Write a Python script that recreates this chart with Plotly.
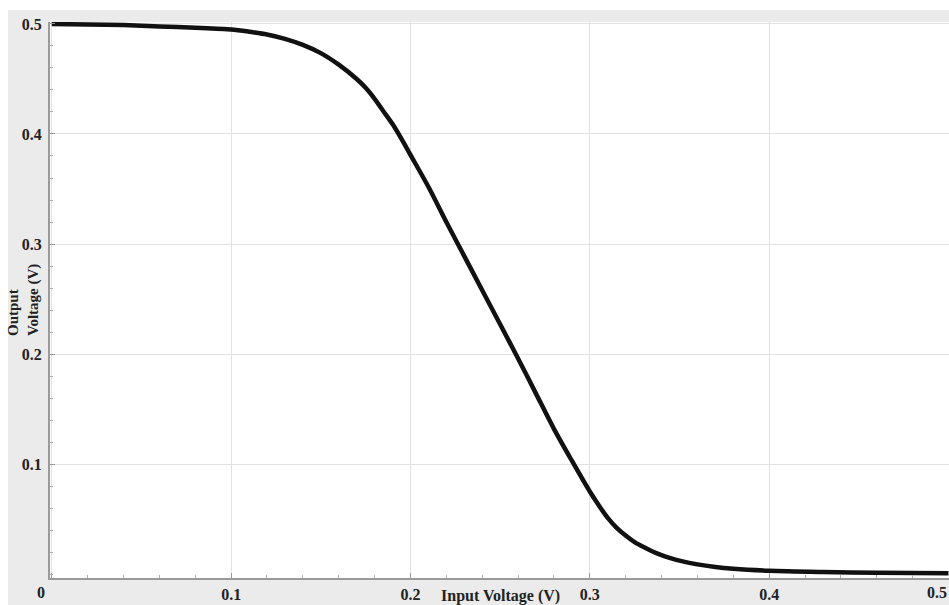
import plotly.graph_objects as go

# Data (inverter voltage transfer curve)
vin = [0.00, 0.02, 0.04, 0.06, 0.08, 0.10, 0.11, 0.12, 0.13, 0.14, 0.15, 0.16,
       0.17, 0.175, 0.18, 0.185, 0.19, 0.195, 0.20, 0.21, 0.22, 0.23, 0.24, 0.25,
       0.26, 0.27, 0.28, 0.29, 0.30, 0.305, 0.31, 0.315, 0.32, 0.325, 0.33, 0.335,
       0.34, 0.345, 0.35, 0.36, 0.37, 0.38, 0.40, 0.43, 0.46, 0.50]
vout = [0.500, 0.4995, 0.499, 0.4978, 0.4966, 0.4950, 0.4930, 0.4905, 0.4865,
        0.4810, 0.4735, 0.4630, 0.4500, 0.4420, 0.4320, 0.4205, 0.4090, 0.3955,
        0.3810, 0.3520, 0.3200, 0.2890, 0.2580, 0.2270, 0.1960, 0.1640, 0.1320,
        0.1030, 0.0750, 0.0625, 0.0510, 0.0420, 0.0350, 0.0290, 0.0245, 0.0205,
        0.0172, 0.0145, 0.0122, 0.0088, 0.0064, 0.0048, 0.0030, 0.0019, 0.0012, 0.0008]

x_ticks = [0, 0.1, 0.2, 0.3, 0.4, 0.5]
x_tick_labels = ["0", "0.1", "0.2", "0.3", "0.4", "0.5"]
y_ticks = [0.1, 0.2, 0.3, 0.4, 0.5]
y_tick_labels = ["0.1", "0.2", "0.3", "0.4", "0.5"]

x_title = "Input Voltage (V)"
y_title = "Output<br>Voltage (V)"

serif = "Liberation Serif"
tick_font = dict(family=serif, size=16, color="#222222", weight="bold")
title_font = dict(family=serif, size=16, color="#222222", weight="bold")
ytitle_font = dict(family=serif, size=15, color="#222222", weight="bold")

# inner tick labels drawn by the axis; the two edge labels are placed as text so they stay inside the page
axis_tick_text = [""] + x_tick_labels[1:-1] + [""]

fig = go.Figure()
fig.add_trace(go.Scatter(x=vin, y=vout, mode="lines",
                         line=dict(color="#111111", width=4.5, shape="spline", smoothing=0.8),
                         showlegend=False, hoverinfo="skip"))

annotations = [
    dict(text=x_title, xref="x", yref="paper", x=0.25, y=0, yshift=-18,
         xanchor="center", yanchor="middle", showarrow=False, font=title_font),
    dict(text=y_title, xref="paper", yref="paper", x=-27 / 899, y=0.5,
         xanchor="center", yanchor="middle", showarrow=False, textangle=-90,
         align="left", font=ytitle_font),
    dict(text=x_tick_labels[0], xref="x", yref="paper", x=x_ticks[0], y=0, xshift=-11, yshift=-14,
         xanchor="center", yanchor="middle", showarrow=False, font=tick_font),
    dict(text=x_tick_labels[-1], xref="paper", yref="paper", x=1, y=0, yshift=-14,
         xanchor="right", yanchor="middle", showarrow=False, font=tick_font),
]

fig.update_layout(
    width=949, height=605,
    margin=dict(l=50, r=0, t=22, b=27),
    paper_bgcolor="#ebebeb",
    plot_bgcolor="#ffffff",
    xaxis=dict(range=[-0.001, 0.5003], tickvals=x_ticks, ticktext=axis_tick_text,
               tickfont=tick_font, showgrid=True, gridcolor="#e2e2e2", gridwidth=1,
               zeroline=False, showline=True, linecolor="#9a9a9a", linewidth=2,
               ticks="inside", ticklen=5, tickcolor="#9a9a9a",
               minor=dict(dtick=0.02, ticks="inside", ticklen=3, tickcolor="#b0b0b0", showgrid=False),
               ticklabelstandoff=1, automargin=False),
    yaxis=dict(range=[-0.0036, 0.5018], tickvals=y_ticks, ticktext=y_tick_labels,
               tickfont=tick_font, showgrid=True, gridcolor="#e2e2e2", gridwidth=1,
               zeroline=False, showline=True, linecolor="#9a9a9a", linewidth=2,
               ticks="inside", ticklen=5, tickcolor="#9a9a9a",
               minor=dict(dtick=0.02, ticks="inside", ticklen=3, tickcolor="#b0b0b0", showgrid=False),
               ticklabelstandoff=3, automargin=False),
    annotations=annotations,
    shapes=[
        dict(type="rect", xref="paper", yref="paper", x0=-50 / 899, x1=1.01,
             y0=1 + 12 / 556, y1=1 + 30 / 556, fillcolor="#ffffff", line=dict(width=0), layer="below"),
        dict(type="rect", xref="paper", yref="paper", x0=-50 / 899, x1=-42 / 899,
             y0=-30 / 556, y1=1 + 30 / 556, fillcolor="#ffffff", line=dict(width=0), layer="below"),
    ],
)

fig.write_html("out.html")
